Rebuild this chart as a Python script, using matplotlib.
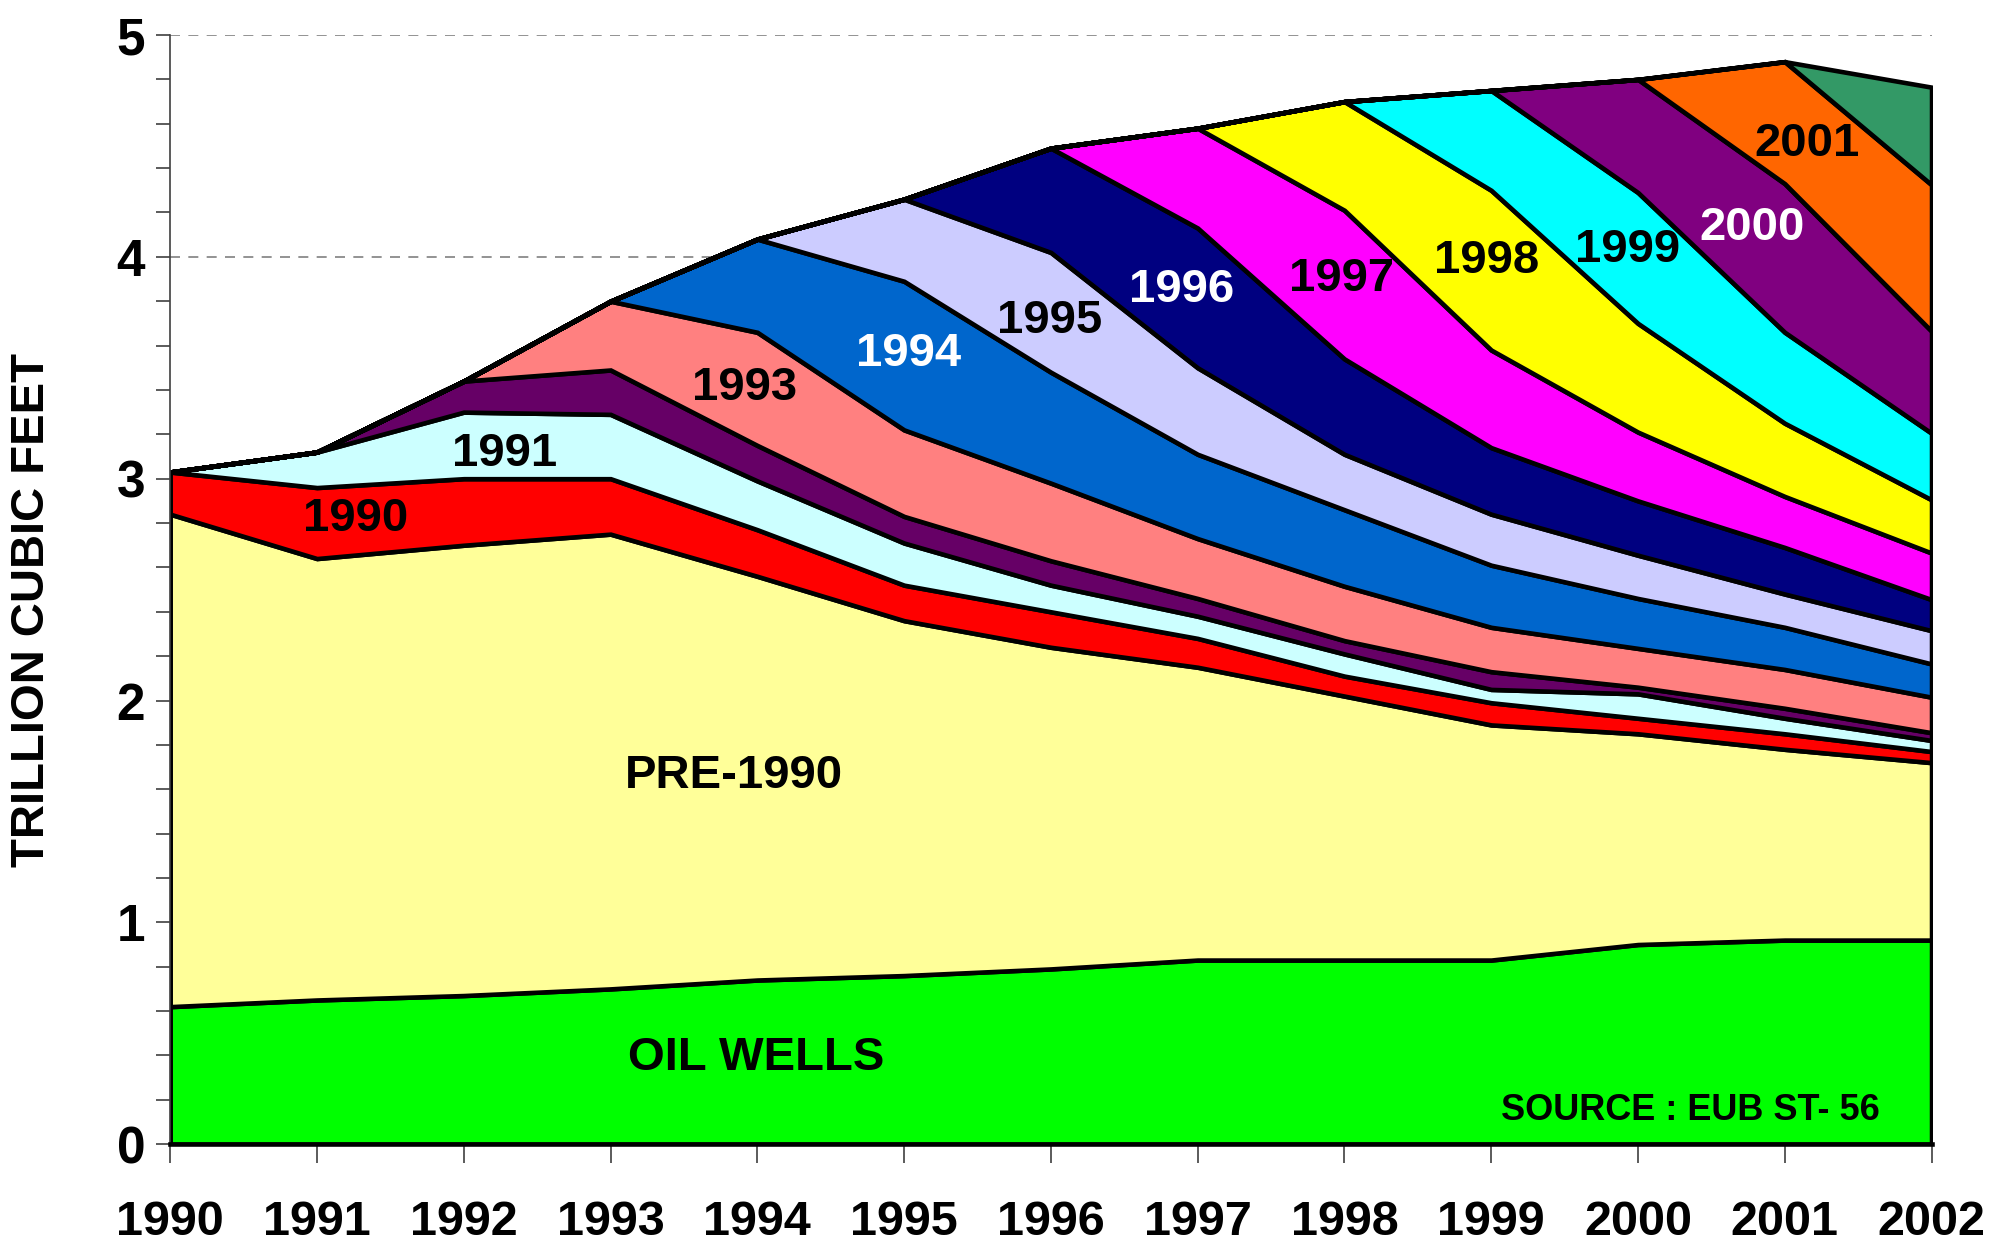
import matplotlib
matplotlib.use("Agg")
import matplotlib.pyplot as plt
import numpy as np
from matplotlib.ticker import MultipleLocator

years = np.arange(1990, 2003)

oil_wells = [0.62, 0.65, 0.67, 0.70, 0.74, 0.76, 0.79, 0.83, 0.83, 0.83, 0.90, 0.92, 0.92]
pre_1990 = [2.22, 1.99, 2.03, 2.05, 1.82, 1.60, 1.45, 1.32, 1.19, 1.06, 0.95, 0.86, 0.80]
v1990 = [0.19, 0.32, 0.30, 0.25, 0.21, 0.16, 0.16, 0.13, 0.09, 0.10, 0.07, 0.07, 0.05]
v1991 = [0, 0.16, 0.30, 0.29, 0.22, 0.19, 0.12, 0.10, 0.10, 0.06, 0.11, 0.07, 0.05]
v1992 = [0, 0, 0.14, 0.20, 0.16, 0.12, 0.11, 0.08, 0.06, 0.08, 0.03, 0.045, 0.035]
v1993 = [0, 0, 0, 0.31, 0.51, 0.39, 0.35, 0.27, 0.245, 0.20, 0.175, 0.175, 0.16]
v1994 = [0, 0, 0, 0, 0.42, 0.67, 0.50, 0.38, 0.345, 0.28, 0.225, 0.19, 0.15]
v1995 = [0, 0, 0, 0, 0, 0.37, 0.54, 0.39, 0.25, 0.23, 0.195, 0.15, 0.15]
v1996 = [0, 0, 0, 0, 0, 0, 0.47, 0.63, 0.43, 0.30, 0.245, 0.21, 0.14]
v1997 = [0, 0, 0, 0, 0, 0, 0, 0.45, 0.67, 0.44, 0.31, 0.23, 0.21]
v1998 = [0, 0, 0, 0, 0, 0, 0, 0, 0.49, 0.72, 0.49, 0.33, 0.24]
v1999 = [0, 0, 0, 0, 0, 0, 0, 0, 0, 0.45, 0.59, 0.41, 0.30]
v2000 = [0, 0, 0, 0, 0, 0, 0, 0, 0, 0, 0.51, 0.67, 0.46]
v2001 = [0, 0, 0, 0, 0, 0, 0, 0, 0, 0, 0, 0.55, 0.66]
v2002 = [0, 0, 0, 0, 0, 0, 0, 0, 0, 0, 0, 0, 0.44]

layers = [oil_wells, pre_1990, v1990, v1991, v1992, v1993, v1994, v1995,
          v1996, v1997, v1998, v1999, v2000, v2001, v2002]
colors = ["#00FF00", "#FFFF99", "#FF0000", "#CCFFFF", "#660066", "#FF8080",
          "#0066CC", "#CCCCFF", "#000080", "#FF00FF", "#FFFF00", "#00FFFF",
          "#800080", "#FF6600", "#339966"]

# in-area labels: text, x, y, colour
area_labels = [
    ("1990", 1991.26, 2.82, "black"),
    ("1991", 1992.28, 3.11, "black"),
    ("1993", 1993.91, 3.41, "black"),
    ("1994", 1995.03, 3.56, "white"),
    ("1995", 1995.99, 3.71, "black"),
    ("1996", 1996.89, 3.85, "white"),
    ("1997", 1997.98, 3.90, "black"),
    ("1998", 1998.97, 3.98, "black"),
    ("1999", 1999.93, 4.03, "black"),
    ("2000", 2000.78, 4.13, "white"),
    ("2001", 2001.15, 4.51, "black"),
    ("PRE-1990", 1993.84, 1.66, "black"),
    ("OIL WELLS", 1993.99, 0.39, "black"),
]

plt.rcParams['font.family'] = ['Liberation Sans', 'DejaVu Sans']

fig = plt.figure(figsize=(20.07, 12.51), dpi=100)
ax = fig.add_axes([0.0848, 0.0854, 0.8776, 0.8866])

ax.set_axisbelow(True)
ax.yaxis.grid(True, which='major', color='#808080', linestyle=(0, (6, 5)), linewidth=1.2)

polys = ax.stackplot(years, *layers, colors=colors, edgecolor='black', linewidth=3.3)
for p in polys:
    p.set_joinstyle('miter')

for txt, x, y, c in area_labels:
    ax.text(x, y, txt, ha='center', va='center', fontsize=34,
            fontweight='bold', color=c)

ax.text(2000.36, 0.15, "SOURCE : EUB ST- 56", ha='center', va='center',
        fontsize=26, fontweight='bold', color='black')

ax.set_xlim(1990, 2002)
ax.set_ylim(0, 5)
ax.set_xticks(years)
ax.set_xticklabels([str(y) for y in years])
ax.yaxis.set_major_locator(MultipleLocator(1))
ax.yaxis.set_minor_locator(MultipleLocator(0.2))

ax.spines['top'].set_visible(False)
ax.spines['right'].set_visible(False)
ax.spines['left'].set_color('#404040')
ax.spines['left'].set_linewidth(1.2)
ax.spines['bottom'].set_color('black')
ax.spines['bottom'].set_linewidth(3.3)

ax.tick_params(axis='y', which='both', direction='out', length=10,
               width=1.2, color='#404040', pad=8)
ax.tick_params(axis='x', which='major', direction='out', length=14,
               width=1.2, color='#404040', pad=26)

for lab in ax.get_yticklabels():
    lab.set_fontsize(37)
    lab.set_fontweight('bold')
for lab in ax.get_xticklabels():
    lab.set_fontsize(35)
    lab.set_fontweight('bold')
    lab.set_fontstretch('condensed')

fig.text(0.016, 0.512, "TRILLION CUBIC FEET", rotation=90, ha='center',
         va='center', fontsize=34, fontweight='bold')

fig.savefig("out.png", dpi=100)
